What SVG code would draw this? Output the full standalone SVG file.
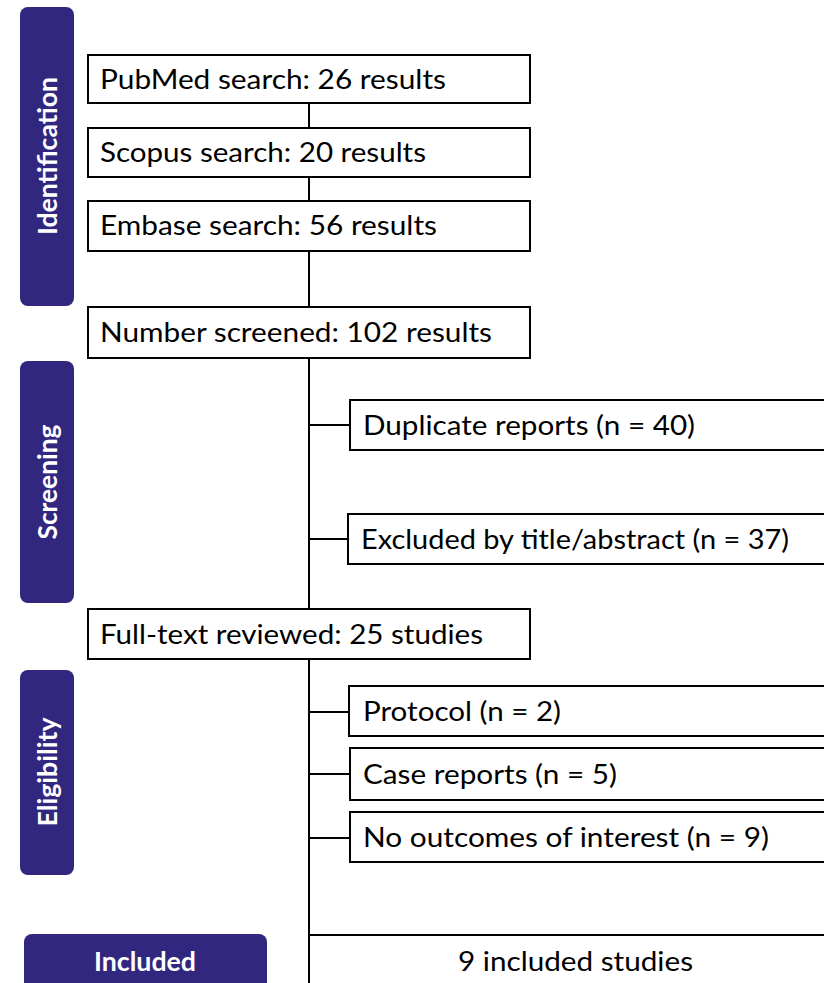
<svg xmlns="http://www.w3.org/2000/svg" width="824" height="983" viewBox="0 0 824 983">
<style>
.bar{fill:#32277f}
.bl{font-family:Lato,"Open Sans","Liberation Sans",sans-serif;font-weight:bold;font-size:27px;fill:#fff;text-anchor:middle}
.box{fill:#fff;stroke:#000;stroke-width:2}
.t{font-family:Lato,"Open Sans","Liberation Sans",sans-serif;font-size:27px;fill:#000}
.ln{stroke:#000;stroke-width:2;fill:none}
</style>
<rect width="824" height="983" fill="#fff"/>
<g id="connectors">
<line class="ln" x1="309" y1="103" x2="309" y2="983"/>
<line class="ln" x1="309" y1="425" x2="350" y2="425"/>
<line class="ln" x1="309" y1="539" x2="348" y2="539"/>
<line class="ln" x1="309" y1="712" x2="349" y2="712"/>
<line class="ln" x1="309" y1="774" x2="350" y2="774"/>
<line class="ln" x1="309" y1="838" x2="350" y2="838"/>
</g>
<g id="phase-identification">
<rect class="bar" x="20" y="7" width="54" height="299" rx="8"/>
<text class="bl" transform="translate(57,156) rotate(-90)" textLength="158" lengthAdjust="spacingAndGlyphs">Identification</text>
</g>
<g id="phase-screening">
<rect class="bar" x="20" y="361" width="54" height="242" rx="8"/>
<text class="bl" transform="translate(57,482) rotate(-90)" textLength="115" lengthAdjust="spacingAndGlyphs">Screening</text>
</g>
<g id="phase-eligibility">
<rect class="bar" x="20" y="670" width="54" height="205" rx="8"/>
<text class="bl" transform="translate(57,772) rotate(-90)" textLength="109" lengthAdjust="spacingAndGlyphs">Eligibility</text>
</g>
<g id="phase-included">
<rect class="bar" x="24" y="934" width="243" height="70" rx="8"/>
<text class="bl" x="145" y="971" textLength="102" lengthAdjust="spacingAndGlyphs">Included</text>
</g>
<g id="pubmed">
<rect class="box" x="88" y="55" width="442" height="48"/>
<text class="t" x="100" y="89" textLength="346" lengthAdjust="spacingAndGlyphs">PubMed search: 26 results</text>
</g>
<g id="scopus">
<rect class="box" x="88" y="128" width="442" height="49"/>
<text class="t" x="100" y="162" textLength="326" lengthAdjust="spacingAndGlyphs">Scopus search: 20 results</text>
</g>
<g id="embase">
<rect class="box" x="88" y="201" width="442" height="50"/>
<text class="t" x="100" y="235" textLength="337" lengthAdjust="spacingAndGlyphs">Embase search: 56 results</text>
</g>
<g id="screened">
<rect class="box" x="88" y="307" width="442" height="51"/>
<text class="t" x="100" y="342" textLength="392" lengthAdjust="spacingAndGlyphs">Number screened: 102 results</text>
</g>
<g id="duplicate">
<rect class="box" x="350" y="400" width="480" height="50"/>
<text class="t" x="363" y="435" textLength="332" lengthAdjust="spacingAndGlyphs">Duplicate reports (n = 40)</text>
</g>
<g id="excluded-title">
<rect class="box" x="348" y="514" width="482" height="50"/>
<text class="t" x="361" y="549" textLength="428" lengthAdjust="spacingAndGlyphs">Excluded by title/abstract (n = 37)</text>
</g>
<g id="fulltext">
<rect class="box" x="88" y="609" width="442" height="50"/>
<text class="t" x="100" y="644" textLength="383" lengthAdjust="spacingAndGlyphs">Full-text reviewed: 25 studies</text>
</g>
<g id="protocol">
<rect class="box" x="349" y="686" width="481" height="50"/>
<text class="t" x="363" y="721" textLength="198" lengthAdjust="spacingAndGlyphs">Protocol (n = 2)</text>
</g>
<g id="case-reports">
<rect class="box" x="350" y="748" width="480" height="52"/>
<text class="t" x="363" y="784" textLength="254" lengthAdjust="spacingAndGlyphs">Case reports (n = 5)</text>
</g>
<g id="no-outcomes">
<rect class="box" x="350" y="812" width="480" height="50"/>
<text class="t" x="363" y="847" textLength="406" lengthAdjust="spacingAndGlyphs">No outcomes of interest (n = 9)</text>
</g>
<g id="included-studies">
<rect class="box" x="309" y="935" width="530" height="70"/>
<text class="t" x="458" y="971" textLength="235" lengthAdjust="spacingAndGlyphs">9 included studies</text>
</g>
</svg>
